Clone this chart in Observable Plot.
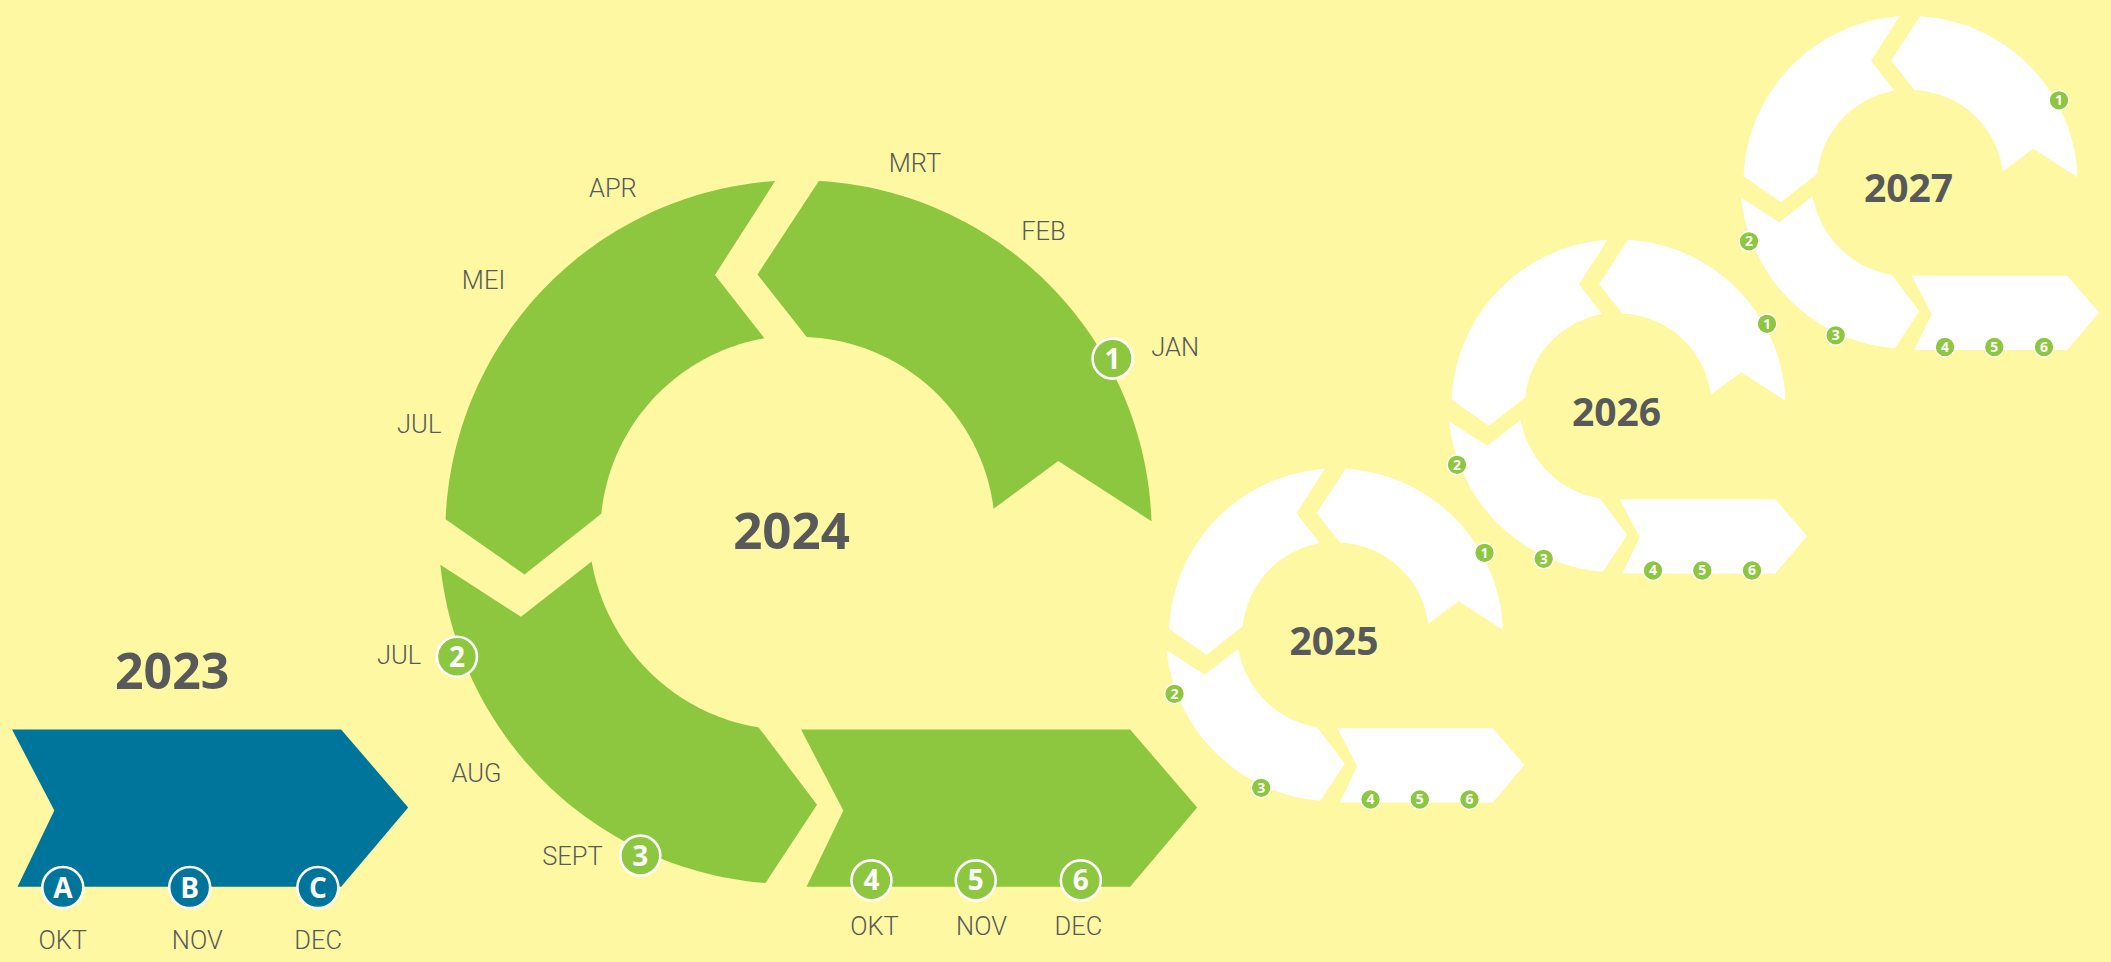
<!DOCTYPE html>
<html>
<head>
<meta charset="utf-8">
<script src="https://cdn.jsdelivr.net/npm/d3@7"></script>
<script src="https://cdn.jsdelivr.net/npm/@observablehq/plot@0.6"></script>
<style>
  html, body { margin: 0; padding: 0; background: #fef8a2; }
  #chart svg { display: block; }
</style>
</head>
<body>
<div id="chart"></div>
<script>
// ---------- data ----------
const years = ["2023", "2024", "2025", "2026", "2027"];
const months2023 = ["OKT", "NOV", "DEC"];
const steps2023 = ["A", "B", "C"];
const months2024 = ["JAN", "FEB", "MRT", "APR", "MEI", "JUL", "JUL", "AUG", "SEPT", "OKT", "NOV", "DEC"];
const steps = ["1", "2", "3", "4", "5", "6"];

// ---------- layout / style ----------
const W = 2111, H = 962;
const BG = "#fef8a2", GREEN = "#8dc63f", BLUE = "#00759b", WHITE = "#ffffff", INK = "#58595b";
const YEAR_FONT = "'Open Sans', 'DejaVu Sans', sans-serif";
const MONTH_FONT = "Roboto, 'Open Sans', sans-serif";

// cycle placements (year -> centre and scale)
const cycleLayout = {
  "2024": {cx: 798, cy: 533, k: 2.115, fill: GREEN, big: true, yearDx: -7, yearDy: -1, yearSize: 51},
  "2025": {cx: 1335.5, cy: 635, k: 1, fill: WHITE, big: false, yearDx: -2, yearDy: 7, yearSize: 39},
  "2026": {cx: 1618, cy: 406, k: 1, fill: WHITE, big: false, yearDx: -2, yearDy: 7, yearSize: 39},
  "2027": {cx: 1910, cy: 182.5, k: 1, fill: WHITE, big: false, yearDx: -2, yearDy: 7, yearSize: 39}
};
const chevron2023 = {cx: 9, cy: 533, k: 2.115};
const year2023Pos = [171.7, 672];
const months2023Pos = [[62.3, 940], [196.7, 940], [317.7, 940]];
const steps2023Base = [[25.2, 167.4], [85.2, 167.4], [145.8, 167.4]];
const months2024Pos = [
  [1174.7, 347.5], [1043, 231], [914.4, 163], [612.4, 188.5], [483, 280], [418.7, 424],
  [398.5, 655], [476, 773.3], [572, 856.7], [874, 926.7], [981, 926.7], [1078, 926.7]
];
const stepBase = [[148.5, -82.7], [-161.5, 58.3], [-74.8, 152.3], [34.5, 164], [83.8, 164], [133.5, 164]];

// ---------- base geometry (unit cycle, outer radius 167) ----------
const RO = 167, RI = 93;
const P = (r, a) => [r * Math.sin(a * Math.PI / 180), -r * Math.cos(a * Math.PI / 180)];
function arc(r0, r1, a0, a1) {
  const n = Math.ceil(Math.abs(a1 - a0));
  const pts = [];
  for (let i = 0; i <= n; i++) {
    const t = i / n;
    pts.push(P(r0 + (r1 - r0) * t, a0 + (a1 - a0) * t));
  }
  return pts;
}
const baseShapes = {
  segA: [...arc(RO, RO, 88, 3.3), P(124, -9), ...arc(RI, RI, 2.4, 82.8), P(127.5, 74.4)],
  segB: [...arc(RO, RO, -3.8, -87.7), P(131, -98.5), ...arc(93.7, 93.7, -84.3, -9.9), P(128.5, -17.9)],
  segC: [...arc(170, 166, -95, -174.6), P(128.6, -183.9), ...arc(93.6, 98.7, -168.4, -97.7), P(137, -106.7)],
  chevron: [[1.2, 92.7], [156.8, 92.7], [188.5, 129.5], [156.8, 167], [3.8, 167], [21.2, 131]]
};

function place(pts, L, id) {
  return pts.map(([x, y]) => ({id, x: L.cx + x * L.k, y: L.cy + y * L.k}));
}

// build polygons
const whitePolys = [], greenPolys = [], bluePolys = [];
for (const y of years) {
  const L = cycleLayout[y];
  if (!L) continue;
  const target = L.fill === GREEN ? greenPolys : whitePolys;
  for (const s of ["segA", "segB", "segC", "chevron"]) target.push(...place(baseShapes[s], L, y + s));
}
bluePolys.push(...place(baseShapes.chevron, chevron2023, "2023chev"));

// badges
const bigBadges = [], smallBadges = [], blueBadges = [];
for (const y of years) {
  const L = cycleLayout[y];
  if (!L) continue;
  steps.forEach((s, i) => {
    const d = {label: s, x: L.cx + stepBase[i][0] * L.k, y: L.cy + stepBase[i][1] * L.k};
    (L.big ? bigBadges : smallBadges).push(d);
  });
}
steps2023.forEach((s, i) => blueBadges.push({
  label: s,
  x: chevron2023.cx + steps2023Base[i][0] * chevron2023.k,
  y: chevron2023.cy + steps2023Base[i][1] * chevron2023.k
}));

const yearLabels = years.map(y => {
  if (y === "2023") return {label: y, x: year2023Pos[0], y: year2023Pos[1], size: 50};
  const L = cycleLayout[y];
  return {label: y, x: L.cx + L.yearDx, y: L.cy + L.yearDy, size: L.yearSize};
});
const monthLabels = [
  ...months2023.map((m, i) => ({label: m, x: months2023Pos[i][0], y: months2023Pos[i][1]})),
  ...months2024.map((m, i) => ({label: m, x: months2024Pos[i][0], y: months2024Pos[i][1]}))
];

const chart = Plot.plot({
  width: W,
  height: H,
  margin: 0,
  x: {domain: [0, W], range: [0, W], axis: null},
  y: {domain: [0, H], range: [0, H], axis: null},
  style: {background: BG, overflow: "visible"},
  marks: [
    Plot.line(whitePolys, {x: "x", y: "y", z: "id", fill: WHITE, stroke: "none", curve: "linear-closed"}),
    Plot.line(greenPolys, {x: "x", y: "y", z: "id", fill: GREEN, stroke: "none", curve: "linear-closed"}),
    Plot.line(bluePolys, {x: "x", y: "y", z: "id", fill: BLUE, stroke: "none", curve: "linear-closed"}),
    Plot.dot(smallBadges, {x: "x", y: "y", r: 9.8, fill: GREEN, stroke: WHITE, strokeWidth: 1.3}),
    Plot.text(smallBadges, {x: "x", y: "y", text: "label", fill: WHITE, fontSize: 14, fontWeight: 700, fontFamily: YEAR_FONT, dy: 0.5}),
    Plot.dot(bigBadges, {x: "x", y: "y", r: 20, fill: GREEN, stroke: WHITE, strokeWidth: 2.6}),
    Plot.text(bigBadges, {x: "x", y: "y", text: "label", fill: WHITE, fontSize: 28, fontWeight: 700, fontFamily: YEAR_FONT, dy: 1}),
    Plot.dot(blueBadges, {x: "x", y: "y", r: 20.5, fill: BLUE, stroke: WHITE, strokeWidth: 2.6}),
    Plot.text(blueBadges, {x: "x", y: "y", text: "label", fill: WHITE, fontSize: 28, fontWeight: 700, fontFamily: YEAR_FONT, dy: 1}),
    Plot.text(yearLabels, {x: "x", y: "y", text: "label", fill: INK, fontSize: d => d.size, fontWeight: 700, fontFamily: YEAR_FONT}),
    Plot.text(monthLabels, {x: "x", y: "y", text: "label", fill: INK, fontSize: 25.5, fontWeight: 300, fontFamily: MONTH_FONT})
  ]
});
document.getElementById("chart").appendChild(chart);
</script>
</body>
</html>
